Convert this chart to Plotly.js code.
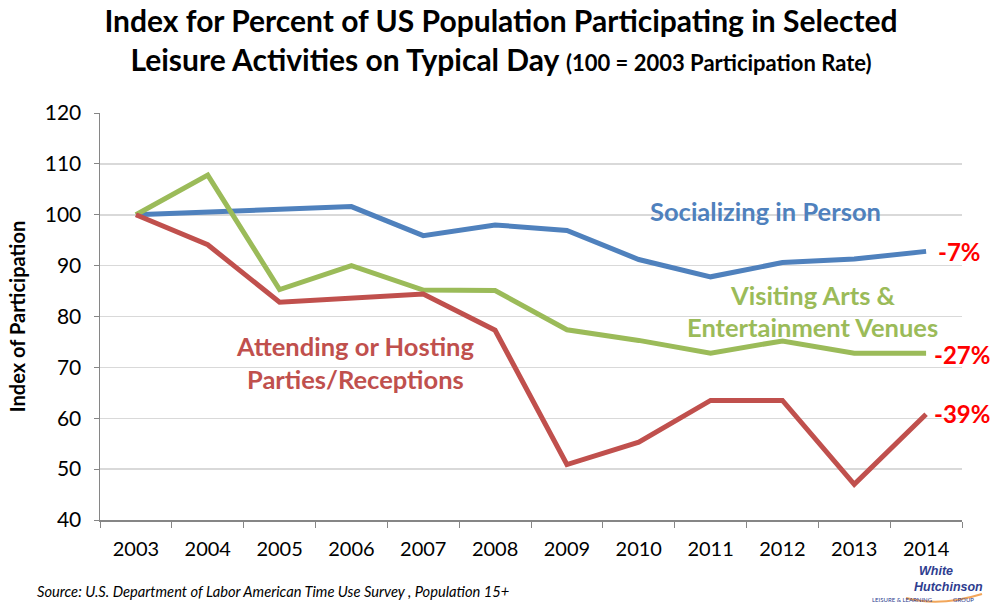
<!DOCTYPE html>
<html>
<head>
<meta charset="utf-8">
<script src="https://cdn.plot.ly/plotly-3.0.1.min.js"></script>
<style>html,body{margin:0;padding:0;background:#fff;}#chart{width:992px;height:610px;}</style>
</head>
<body>
<div id="chart"></div>
<script>
const years = ["2003","2004","2005","2006","2007","2008","2009","2010","2011","2012","2013","2014"];
const socializing = [100, 100.5, 101.2, 101.6, 95.9, 98.0, 96.9, 91.2, 87.8, 90.6, 91.3, 92.8];
const artsVenues = [100, 107.8, 85.3, 90.0, 85.2, 85.1, 77.4, 75.3, 72.8, 75.2, 72.8, 72.8];
const parties = [100, 94.1, 82.8, 83.6, 84.4, 77.3, 50.9, 55.3, 63.5, 63.5, 47.0, 60.8];
const changeLabels = ["-7%", "-27%", "-39%"];

const FONT = "Lato, 'Open Sans', sans-serif";
const BLUE = "#4F81BD", GREEN = "#9BBB59", RED = "#C0504D";

const traces = [
  {x: years, y: socializing, type: "scatter", mode: "lines", line: {color: BLUE, width: 5}, name: "Socializing in Person"},
  {x: years, y: artsVenues, type: "scatter", mode: "lines", line: {color: GREEN, width: 5}, name: "Visiting Arts & Entertainment Venues"},
  {x: years, y: parties, type: "scatter", mode: "lines", line: {color: RED, width: 5}, name: "Attending or Hosting Parties/Receptions"}
];

// paper coordinate helpers (plot area: x 100..962, y 113..520 in pixels)
const px = v => (v - 100) / 862;
const py = v => (520 - v) / 407;

const lastIdx = years.length - 1;
const LS = 25.5;
const LOGO = "#2E3D8F";
const annotations = [
  {x: 8.77, y: 100.7, xref: "x", yref: "y", text: "<b>Socializing in Person</b>", showarrow: false, font: {family: FONT, size: LS, color: BLUE}},
  {x: 9.42, y: 84.2, xref: "x", yref: "y", text: "<b>Visiting Arts &amp;</b>", showarrow: false, font: {family: FONT, size: LS, color: GREEN}},
  {x: 9.42, y: 77.9, xref: "x", yref: "y", text: "<b>Entertainment Venues</b>", showarrow: false, font: {family: FONT, size: LS, color: GREEN}},
  {x: 3.05, y: 74.2, xref: "x", yref: "y", text: "<b>Attending or Hosting</b>", showarrow: false, font: {family: FONT, size: LS, color: RED}},
  {x: 3.05, y: 67.7, xref: "x", yref: "y", text: "<b>Parties/Receptions</b>", showarrow: false, font: {family: FONT, size: LS, color: RED}},
  {x: lastIdx, y: socializing[lastIdx], xref: "x", yref: "y", xanchor: "left", xshift: 10, text: "<b>" + changeLabels[0] + "</b>", showarrow: false, font: {family: FONT, size: 24, color: "#FF0000"}},
  {x: lastIdx, y: artsVenues[lastIdx], xref: "x", yref: "y", xanchor: "left", xshift: 6, yshift: -1, text: "<b>" + changeLabels[1] + "</b>", showarrow: false, font: {family: FONT, size: 24, color: "#FF0000"}},
  {x: lastIdx, y: parties[lastIdx], xref: "x", yref: "y", xanchor: "left", xshift: 6, yshift: 1, text: "<b>" + changeLabels[2] + "</b>", showarrow: false, font: {family: FONT, size: 24, color: "#FF0000"}},
  {x: px(35), y: py(591), xref: "paper", yref: "paper", xanchor: "left", yanchor: "middle", showarrow: false,
   text: "<i>Source: U.S. Department of Labor American Time Use Survey , Population 15+</i>",
   font: {family: FONT, size: 14.7, color: "#000"}},
  {x: px(913), y: py(579), xref: "paper", yref: "paper", xanchor: "left", yanchor: "middle", showarrow: false, align: "left", borderpad: 0,
   text: "<i><b>&#8201;&#8201;White<br>Hutchinson</b></i>", font: {family: "'Liberation Sans', Arial, sans-serif", size: 12.5, color: LOGO}},
  {x: px(934), y: py(604), xref: "paper", yref: "paper", showarrow: false, borderpad: 0,
   text: "LEISURE &amp; LEARNING", font: {family: FONT, size: 6, color: LOGO}},
  {x: px(975), y: py(604), xref: "paper", yref: "paper", showarrow: false, borderpad: 0,
   text: "GROUP", font: {family: FONT, size: 6, color: LOGO}}
];

const shapes = [
  {type: "path", xref: "paper", yref: "paper", layer: "above",
   path: `M ${px(906)} ${py(598)} Q ${px(940)} ${py(607)} ${px(982)} ${py(594)}`,
   line: {color: "#F2A65A", width: 2}}
];

const layout = {
  width: 992, height: 610,
  margin: {l: 100, r: 30, t: 113, b: 90},
  paper_bgcolor: "#fff", plot_bgcolor: "#fff",
  showlegend: false,
  font: {family: FONT, color: "#000"},
  title: {
    text: "<b>Index for Percent of US Population Participating in Selected<br>Leisure Activities on Typical Day <span style='font-size:22px'>(100 = 2003 Participation Rate)</span></b>",
    font: {family: FONT, size: 30, color: "#000"},
    x: 0.505, xanchor: "center", yref: "container", y: 0.947, yanchor: "middle"
  },
  xaxis: {
    type: "category", tickson: "boundaries", ticks: "outside", ticklen: 6, tickcolor: "#868686",
    showline: true, linecolor: "#868686", linewidth: 1.5, showgrid: false, zeroline: false,
    tickfont: {family: FONT, size: 20, color: "#000"}, range: [-0.5, 11.5], ticklabelstandoff: 10
  },
  yaxis: {
    range: [40, 120], dtick: 10, tick0: 40, ticks: "outside", ticklen: 5, tickcolor: "#868686",
    showline: true, linecolor: "#868686", linewidth: 1.5, gridcolor: "#D9D9D9", gridwidth: 1.5, zeroline: false,
    tickfont: {family: FONT, size: 21, color: "#000"}, ticklabelstandoff: 8,
    title: {text: "<b>Index of Participation</b>", font: {family: FONT, size: 20, color: "#000"}, standoff: 14}
  },
  shapes: shapes,
  annotations: annotations
};

Plotly.newPlot("chart", traces, layout, {displayModeBar: false, staticPlot: true});
</script>
</body>
</html>
